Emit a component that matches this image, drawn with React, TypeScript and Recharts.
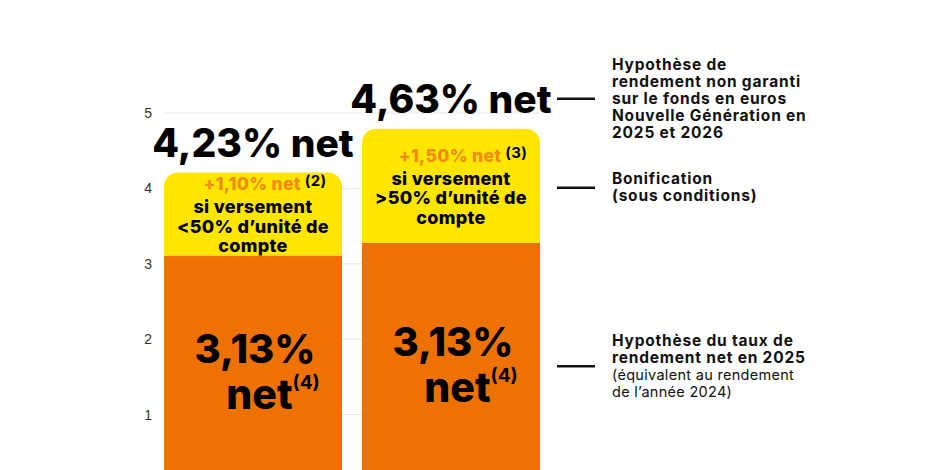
import { BarChart, Bar, XAxis, YAxis, CartesianGrid, LabelList } from 'recharts';

const categories = ['Versement <50% UC', 'Versement >50% UC'];
const baseValues = [3.11, 3.28];
const bonusValues = [1.1, 1.51];
const totalLabels = ['4,23% net', '4,63% net'];
const baseLabels = ['3,13%', '3,13%'];
const baseNotes = ['(4)', '(4)'];
const bonusLabels = ['+1,10% net', '+1,50% net'];
const bonusNotes = ['(2)', '(3)'];
const conditionLines = [
  ['si versement', '<50% d’unité de', 'compte'],
  ['si versement', '>50% d’unité de', 'compte'],
];
const yTicks = [0, 1, 2, 3, 4, 5];

const totalNote = ['Hypothèse de', 'rendement non garanti', 'sur le fonds en euros', 'Nouvelle Génération en', '2025 et 2026'];
const bonusNote = ['Bonification', '(sous conditions)'];
const baseNoteBold = ['Hypothèse du taux de', 'rendement net en 2025'];
const baseNoteLight = ['(équivalent au rendement', 'de l’année 2024)'];

const data = categories.map((name, i) => ({ name, base: baseValues[i], bonus: bonusValues[i] }));

const ORANGE = '#EE7203';
const YELLOW = '#FFE600';
const BONUS_TEXT = '#F28A1A';
const FONT = 'Inter, "Noto Sans", sans-serif';
const LH = 17;

// text block to the right of the last bar, with a short dash pointing at it
function Note({ x, y, bold, light = [] }: { x: number; y: number; bold: string[]; light?: string[] }) {
  const lines = [...bold, ...light];
  const first = y - ((lines.length - 1) * LH) / 2 + 5;
  return (
    <g fontFamily={FONT} fill="#111">
      <line x1={x + 17} x2={x + 55} y1={y} y2={y} stroke="#111" strokeWidth={2.5} />
      {lines.map((t, k) => {
        const isBold = k < bold.length;
        return (
          <text
            key={k}
            x={x + 72}
            y={first + k * LH}
            fontSize={isBold ? 15.5 : 14.5}
            letterSpacing={isBold ? 0.8 : 0.3}
            fontWeight={isBold ? 700 : 400}
          >
            {t}
          </text>
        );
      })}
    </g>
  );
}

function BaseLabel(props: any) {
  const { x, y, width, height, index } = props;
  const cx = x + width / 2;
  const cy = y + height / 2;
  return (
    <g fontFamily={FONT} fontWeight={800} fill="#000">
      <text x={cx + 2} y={cy - 10} fontSize={40} textAnchor="middle">
        {baseLabels[index]}
      </text>
      <text x={cx + 20} y={cy + 36} fontSize={41} textAnchor="middle">
        net
        <tspan fontSize={19} fontWeight={700} dy={-20}>
          {baseNotes[index]}
        </tspan>
      </text>
      {index === 1 && <Note x={x + width} y={cy} bold={baseNoteBold} light={baseNoteLight} />}
    </g>
  );
}

function BonusLabel(props: any) {
  const { x, y, width, height, index } = props;
  const cx = x + width / 2;
  const cy = y + height / 2;
  return (
    <g fontFamily={FONT} fill="#000">
      <text x={cx} y={y - 16} fontSize={39} fontWeight={800} textAnchor="middle">
        {totalLabels[index]}
      </text>
      <text x={cx + 12} y={cy - 24} fontSize={17.5} fontWeight={800} letterSpacing={0.3} textAnchor="middle">
        <tspan fill={BONUS_TEXT}>{bonusLabels[index]}</tspan>
        <tspan dx={4} dy={-4} fontSize={15} fontWeight={700}>
          {bonusNotes[index]}
        </tspan>
      </text>
      {conditionLines[index].map((t, k) => (
        <text
          key={k}
          x={cx}
          y={cy - 1 + k * 19.5}
          fontSize={18}
          fontWeight={800}
          letterSpacing={0.3}
          textAnchor="middle"
        >
          {t}
        </text>
      ))}
      {index === 1 && (
        <>
          <Note x={x + width} y={y - 30} bold={totalNote} />
          <Note x={x + width} y={cy + 2} bold={bonusNote} />
        </>
      )}
    </g>
  );
}

export default function App() {
  return (
    <div style={{ position: 'absolute', left: 0, top: 0, width: 940, height: 470, overflow: 'hidden' }}>
      <BarChart width={940} height={490} data={data} margin={{ top: 113, right: 400, bottom: 0, left: 0 }}>
        <CartesianGrid vertical={false} stroke="#e6e6e6" />
        <XAxis dataKey="name" hide padding={{ left: -10, right: -10 }} />
        <YAxis
          width={164}
          domain={[0, 5]}
          ticks={yTicks}
          axisLine={false}
          tickLine={false}
          tickMargin={6}
          tick={{ fontSize: 14, fill: '#333', fontFamily: '"Liberation Sans", Arial, sans-serif' }}
        />
        <Bar dataKey="base" stackId="a" fill={ORANGE} barSize={178} isAnimationActive={false}>
          <LabelList dataKey="base" content={BaseLabel} />
        </Bar>
        <Bar dataKey="bonus" stackId="a" fill={YELLOW} barSize={178} radius={[14, 14, 0, 0]} isAnimationActive={false}>
          <LabelList dataKey="bonus" content={BonusLabel} />
        </Bar>
      </BarChart>
    </div>
  );
}
